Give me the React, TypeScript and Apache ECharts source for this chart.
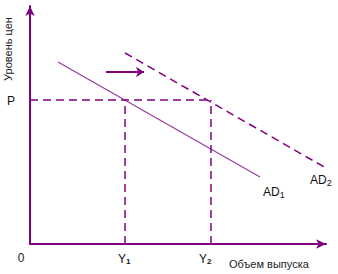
import React, { useEffect, useRef } from "react";
import * as echarts from "echarts";

// Aggregate demand shift: output (x) vs price level (y), arbitrary units
const ad1: [number, number][] = [[28, 182], [230, 67]];
const ad2: [number, number][] = [[95, 191], [296, 76]];
const priceLevel = 144; // P
const outputY1 = 95; // Y1
const outputY2 = 181; // Y2
const shiftArrow: [number, number][] = [[76, 172], [114, 172]];

const PURPLE = "#800080";
const FONT = "Liberation Sans, Arial, sans-serif";

export default function App() {
  const ref = useRef<HTMLDivElement>(null);

  useEffect(() => {
    if (!ref.current) return;
    const chart = echarts.init(ref.current, null, { renderer: "svg" });
    const dashed = { color: PURPLE, width: 1.5, type: [8, 5] as any };
    const sub = (size: number, weight: string) => ({
      s: { font: `${weight} ${size}px ${FONT}`, fill: "#111", padding: [5, 0, 0, 0] },
    });
    chart.setOption({
      animation: false,
      grid: { left: 30, top: 6, width: 296, height: 238 },
      xAxis: {
        type: "value",
        min: 0,
        max: 296,
        axisLine: {
          show: true,
          symbol: ["none", "arrow"],
          symbolSize: [7, 10],
          lineStyle: { color: PURPLE, width: 2 },
        },
        axisTick: { show: false },
        axisLabel: { show: false },
        splitLine: { show: false },
      },
      yAxis: {
        type: "value",
        min: 0,
        max: 238,
        axisLine: {
          show: true,
          symbol: ["none", "arrow"],
          symbolSize: [7, 10],
          lineStyle: { color: PURPLE, width: 2 },
        },
        axisTick: { show: false },
        axisLabel: { show: false },
        splitLine: { show: false },
      },
      series: [
        {
          type: "line",
          data: ad1,
          symbol: "none",
          lineStyle: { color: "#9a3a9a", width: 1.2 },
        },
        {
          type: "line",
          data: ad2,
          symbol: "none",
          lineStyle: dashed,
        },
        {
          type: "line",
          data: [[0, priceLevel], [outputY2, priceLevel]],
          symbol: "none",
          lineStyle: dashed,
        },
        {
          type: "line",
          data: [[outputY1, 0], [outputY1, priceLevel]],
          symbol: "none",
          lineStyle: dashed,
        },
        {
          type: "line",
          data: [[outputY2, 0], [outputY2, priceLevel]],
          symbol: "none",
          lineStyle: dashed,
        },
        {
          type: "lines",
          coordinateSystem: "cartesian2d",
          symbol: ["none", "arrow"],
          symbolSize: 8,
          lineStyle: { color: PURPLE, width: 2, opacity: 1 },
          data: [{ coords: shiftArrow }],
        },
      ],
      graphic: [
        {
          type: "text",
          x: 8,
          y: 49,
          rotation: Math.PI / 2,
          style: {
            text: "Уровень цен",
            font: `11px ${FONT}`,
            fill: "#222",
            align: "center",
            verticalAlign: "middle",
          },
        },
        {
          type: "text",
          x: 11,
          y: 101,
          style: { text: "P", font: `12px ${FONT}`, fill: "#111", align: "center", verticalAlign: "middle" },
        },
        {
          type: "text",
          x: 21,
          y: 258,
          style: { text: "0", font: `12px ${FONT}`, fill: "#222", align: "center", verticalAlign: "middle" },
        },
        {
          type: "text",
          x: 118,
          y: 252,
          style: { text: "Y{s|1}", font: `12px ${FONT}`, fill: "#111", rich: sub(8, "bold") },
        },
        {
          type: "text",
          x: 199,
          y: 252,
          style: { text: "Y{s|2}", font: `12px ${FONT}`, fill: "#111", rich: sub(8, "bold") },
        },
        {
          type: "text",
          x: 229,
          y: 258,
          style: { text: "Объем выпуска", font: `11px ${FONT}`, fill: "#222" },
        },
        {
          type: "text",
          x: 263,
          y: 185,
          style: { text: "AD{s|1}", font: `12px ${FONT}`, fill: "#111", rich: sub(9, "normal") },
        },
        {
          type: "text",
          x: 310,
          y: 173,
          style: { text: "AD{s|2}", font: `12px ${FONT}`, fill: "#111", rich: sub(9, "normal") },
        },
      ],
    });
    return () => chart.dispose();
  }, []);

  return (
    <div
      ref={ref}
      style={{ position: "fixed", left: 0, top: 0, width: 338, height: 274, background: "#fff" }}
    />
  );
}
